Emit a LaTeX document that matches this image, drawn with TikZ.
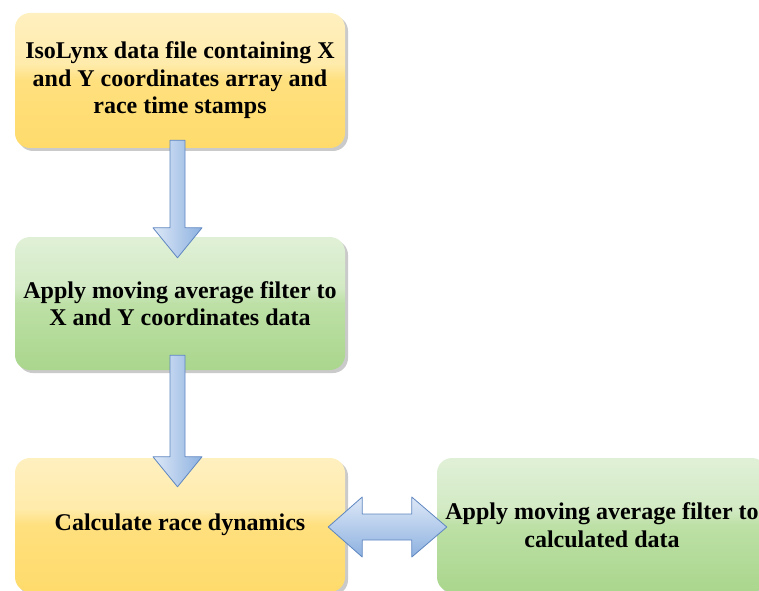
\documentclass[tikz,border=0pt]{standalone}
\usepackage{fontspec}
\setmainfont{Liberation Serif}
\usetikzlibrary{calc,shadows}
\definecolor{goldT}{HTML}{FFF6DC}
\definecolor{goldM}{HTML}{FFEBAA}
\definecolor{goldN}{HTML}{FFE07E}
\definecolor{goldB}{HTML}{FFD659}
\definecolor{grnT}{HTML}{F3F9F0}
\definecolor{grnM}{HTML}{D2EAC4}
\definecolor{grnN}{HTML}{BDE0A6}
\definecolor{grnB}{HTML}{96CC73}
\definecolor{arrL}{HTML}{DDE8F7}
\definecolor{arrD}{HTML}{8DB1E0}
\definecolor{arrE}{HTML}{5E86C0}
\pgfdeclareverticalshading{goldshade}{100bp}{color(0bp)=(goldB); color(50bp)=(goldN); color(56bp)=(goldM); color(100bp)=(goldT)}
\pgfdeclareverticalshading{grnshade}{100bp}{color(0bp)=(grnB); color(50bp)=(grnN); color(56bp)=(grnM); color(100bp)=(grnT)}
\tikzset{
  box/.style={rounded corners=15pt, inner sep=0pt, align=center,
    font=\fontsize{24}{27.5}\selectfont\bfseries,
    drop shadow={shadow xshift=3pt, shadow yshift=-3pt, fill=black!35, opacity=0.6}},
  goldbox/.style={box, shading=goldshade},
  grnbox/.style={box, shading=grnshade},
  varrowstyle/.style={draw=arrE, line width=0.8pt, line join=round, left color=arrL, right color=arrD},
  harrowstyle/.style={draw=arrE, line width=0.8pt, line join=round, top color=arrL, bottom color=arrD}
}
\begin{document}
\begin{tikzpicture}[x=1pt,y=1pt]
\useasboundingbox (0,0) rectangle (759,590);
\clip (0,0) rectangle (759,590);
\node[goldbox, minimum width=330pt, minimum height=135pt] (b1) at (180,509.5)
  {IsoLynx data file containing X\\and Y coordinates array and\\race time stamps};
\node[grnbox, minimum width=330pt, minimum height=133pt] (b2) at (180,286.5)
  {Apply moving average filter to\\X and Y coordinates data};
\node[goldbox, minimum width=330pt, minimum height=134pt] (b3) at (180,65)
  {Calculate race dynamics};
\node[grnbox, minimum width=330pt, minimum height=134pt] (b4) at (602,65)
  {Apply moving average filter to\\calculated data};
% vertical arrows
\coordinate (a1s) at ([xshift=-2.5pt,yshift=8pt]b1.south);
\coordinate (a1t) at ([xshift=-2.5pt,yshift=-21pt]b2.north);
\coordinate (a2s) at ([xshift=-2.5pt,yshift=15pt]b2.south);
\coordinate (a2t) at ([xshift=-2.5pt,yshift=-29pt]b3.north);
\foreach \s/\t in {a1s/a1t,a2s/a2t}{
  \path[varrowstyle] let \p1=(\s), \p2=(\t) in
    (\x1-7.5,\y1) -- (\x1+7.5,\y1) -- (\x1+7.5,\y2+30) -- (\x1+24.5,\y2+30)
    -- (\x2,\y2) -- (\x1-24.5,\y2+30) -- (\x1-7.5,\y2+30) -- cycle;
}
% double arrow between b3 and b4
\coordinate (dl) at ([xshift=-17pt,yshift=-2pt]b3.east);
\coordinate (dr) at ([xshift=10pt,yshift=-2pt]b4.west);
\path[harrowstyle] let \p1=(dl), \p2=(dr) in
  (\x1,\y1) -- (\x1+34,\y1+30) -- (\x1+34,\y1+13) -- (\x2-35,\y1+13) -- (\x2-35,\y1+30)
  -- (\x2,\y1) -- (\x2-35,\y1-30) -- (\x2-35,\y1-13) -- (\x1+34,\y1-13) -- (\x1+34,\y1-30) -- cycle;
\end{tikzpicture}
\end{document}
